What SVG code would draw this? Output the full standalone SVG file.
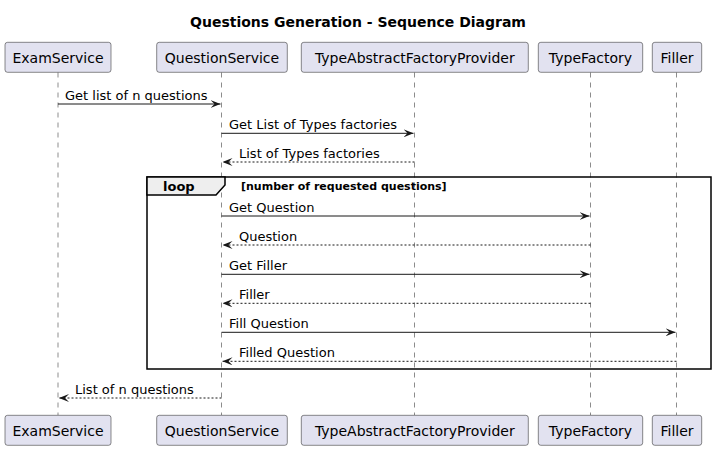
<svg xmlns="http://www.w3.org/2000/svg" width="716" height="450" viewBox="0 0 716 450">
  <style>
    .title { font-family: "DejaVu Sans", sans-serif; font-size: 14px; font-weight: bold; fill: #000; }
    .box { fill: #E2E2F0; stroke: #181818; stroke-width: 0.5; }
    .pname { font-family: "DejaVu Sans", sans-serif; font-size: 14px; fill: #000; text-anchor: middle; }
    .life { stroke: #181818; stroke-width: 0.5; stroke-dasharray: 5,5; fill: none; }
    .msg { stroke: #181818; stroke-width: 1; fill: none; }
    .ret { stroke: #181818; stroke-width: 1; stroke-dasharray: 2,2; fill: none; }
    .head { fill: #181818; stroke: #181818; stroke-width: 1; }
    .label { font-family: "DejaVu Sans", sans-serif; font-size: 13px; fill: #000; }
    .frame { fill: none; stroke: #000; stroke-width: 1.5; }
    .tab { fill: #EEEEEE; stroke: #000; stroke-width: 1.5; }
    .kw { font-family: "DejaVu Sans", sans-serif; font-size: 13px; font-weight: bold; fill: #000; }
    .guard { font-family: "DejaVu Sans", sans-serif; font-size: 11px; font-weight: bold; fill: #000; }
  </style>
  <defs>
    <marker id="arrow" viewBox="0 0 10 8" refX="10" refY="4" markerWidth="10" markerHeight="8" markerUnits="userSpaceOnUse" orient="auto">
      <polygon points="0,0 10,4 0,8 4,4" fill="#181818"/>
    </marker>
  </defs>

  <text class="title" x="358" y="27" text-anchor="middle">Questions Generation - Sequence Diagram</text>

  <!-- lifelines -->
  <g id="lifelines">
    <line class="life" x1="58" y1="72.5" x2="58" y2="415"/>
    <line class="life" x1="221.5" y1="72.5" x2="221.5" y2="415"/>
    <line class="life" x1="414.5" y1="72.5" x2="414.5" y2="415"/>
    <line class="life" x1="590.5" y1="72.5" x2="590.5" y2="415"/>
    <line class="life" x1="676.5" y1="72.5" x2="676.5" y2="415"/>
  </g>

  <!-- loop fragment -->
  <g id="loop">
    <rect class="frame" x="147" y="177" width="564" height="192"/>
    <polygon class="tab" points="147,177 225,177 225,185 216,195 147,195"/>
    <text class="kw" x="163" y="191">loop</text>
    <text class="guard" x="241" y="190">[number of requested questions]</text>
  </g>

  <!-- participants -->
  <g id="ExamService">
    <rect class="box" x="5" y="42.3" width="106" height="30" rx="2.5"/>
    <text class="pname" x="58" y="62.5">ExamService</text>
    <rect class="box" x="5" y="415.3" width="106" height="30" rx="2.5"/>
    <text class="pname" x="58" y="435.5">ExamService</text>
  </g>
  <g id="QuestionService">
    <rect class="box" x="156.7" y="42.3" width="130.6" height="30" rx="2.5"/>
    <text class="pname" x="222" y="62.5">QuestionService</text>
    <rect class="box" x="156.7" y="415.3" width="130.6" height="30" rx="2.5"/>
    <text class="pname" x="222" y="435.5">QuestionService</text>
  </g>
  <g id="TypeAbstractFactoryProvider">
    <rect class="box" x="301.3" y="42.3" width="227" height="30" rx="2.5"/>
    <text class="pname" x="414.8" y="62.5">TypeAbstractFactoryProvider</text>
    <rect class="box" x="301.3" y="415.3" width="227" height="30" rx="2.5"/>
    <text class="pname" x="414.8" y="435.5">TypeAbstractFactoryProvider</text>
  </g>
  <g id="TypeFactory">
    <rect class="box" x="538.3" y="42.3" width="104.4" height="30" rx="2.5"/>
    <text class="pname" x="590.5" y="62.5">TypeFactory</text>
    <rect class="box" x="538.3" y="415.3" width="104.4" height="30" rx="2.5"/>
    <text class="pname" x="590.5" y="435.5">TypeFactory</text>
  </g>
  <g id="Filler">
    <rect class="box" x="652.3" y="42.3" width="49.4" height="30" rx="2.5"/>
    <text class="pname" x="677" y="62.5">Filler</text>
    <rect class="box" x="652.3" y="415.3" width="49.4" height="30" rx="2.5"/>
    <text class="pname" x="677" y="435.5">Filler</text>
  </g>

  <!-- messages -->
  <g id="connectors">
    <line class="msg" x1="58" y1="104" x2="220.5" y2="104" marker-end="url(#arrow)"/>
    <text class="label" x="65" y="100">Get list of n questions</text>

    <line class="msg" x1="221.5" y1="133.3" x2="413.5" y2="133.3" marker-end="url(#arrow)"/>
    <text class="label" x="229" y="129.3">Get List of Types factories</text>

    <line class="ret" x1="414.5" y1="162" x2="222.5" y2="162" marker-end="url(#arrow)"/>
    <text class="label" x="239" y="158">List of Types factories</text>

    <line class="msg" x1="221.5" y1="216" x2="589.5" y2="216" marker-end="url(#arrow)"/>
    <text class="label" x="229" y="212">Get Question</text>

    <line class="ret" x1="590.5" y1="245" x2="222.5" y2="245" marker-end="url(#arrow)"/>
    <text class="label" x="239" y="241">Question</text>

    <line class="msg" x1="221.5" y1="274.3" x2="589.5" y2="274.3" marker-end="url(#arrow)"/>
    <text class="label" x="229" y="270.3">Get Filler</text>

    <line class="ret" x1="590.5" y1="303.3" x2="222.5" y2="303.3" marker-end="url(#arrow)"/>
    <text class="label" x="239" y="299.3">Filler</text>

    <line class="msg" x1="221.5" y1="332.3" x2="675.5" y2="332.3" marker-end="url(#arrow)"/>
    <text class="label" x="229" y="328.3">Fill Question</text>

    <line class="ret" x1="676.5" y1="361.3" x2="222.5" y2="361.3" marker-end="url(#arrow)"/>
    <text class="label" x="239" y="357.3">Filled Question</text>

    <line class="ret" x1="221.5" y1="398" x2="59" y2="398" marker-end="url(#arrow)"/>
    <text class="label" x="75" y="394">List of n questions</text>
  </g>
</svg>
